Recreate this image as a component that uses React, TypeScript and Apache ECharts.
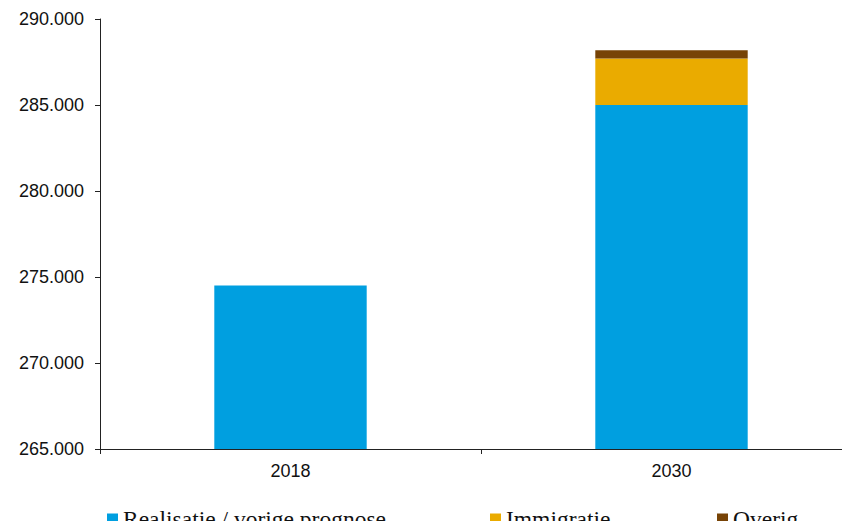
import React, { useEffect, useRef } from "react";
import * as echarts from "echarts";

const categories = ["2018", "2030"];
const realisatie = [274500, 285000];
const immigratie = [0, 2700];
const overig = [0, 480];
const seriesNames = ["Realisatie / vorige prognose", "Immigratie", "Overig"];
const colors = ["#009FE0", "#EAAB00", "#774306"];

function fmt(v: number): string {
  const s = Math.round(v).toString();
  return s.replace(/\B(?=(\d{3})+(?!\d))/g, ".");
}

export default function App() {
  const ref = useRef<HTMLDivElement>(null);
  useEffect(() => {
    if (!ref.current) return;
    const chart = echarts.init(ref.current, null, { renderer: "svg" });
    const legendLefts = [107, 490, 717];
    chart.setOption({
      animation: false,
      grid: { left: 100, right: 0, top: 19, bottom: 80 },
      legend: seriesNames.map((n, i) => ({
        data: [n],
        left: legendLefts[i],
        top: 507,
        padding: 0,
        itemWidth: 11,
        itemHeight: 11,
        icon: "rect",
        textStyle: { fontFamily: "Liberation Serif", fontSize: 23.5, lineHeight: 24, color: "#111" },
      })),
      xAxis: {
        type: "category",
        data: categories,
        axisLine: { lineStyle: { color: "#222", width: 1 } },
        axisTick: { show: true, length: 5, lineStyle: { color: "#222" } },
        axisLabel: { fontFamily: "Liberation Sans", fontSize: 18, color: "#111", margin: 13 },
      },
      yAxis: {
        type: "value",
        min: 265000,
        max: 290000,
        interval: 5000,
        splitLine: { show: false },
        axisLine: { show: true, lineStyle: { color: "#222", width: 1 } },
        axisTick: { show: true, length: 5, lineStyle: { color: "#222" } },
        axisLabel: {
          fontFamily: "Liberation Sans",
          fontSize: 18,
          color: "#111",
          margin: 16,
          formatter: (v: number) => fmt(v),
        },
      },
      series: [
        { name: seriesNames[0], type: "bar", stack: "a", data: realisatie, barWidth: "40%", itemStyle: { color: colors[0] } },
        { name: seriesNames[1], type: "bar", stack: "a", data: immigratie, barWidth: "40%", itemStyle: { color: colors[1] } },
        { name: seriesNames[2], type: "bar", stack: "a", data: overig, barWidth: "40%", itemStyle: { color: colors[2] } },
      ],
    });
    return () => chart.dispose();
  }, []);
  return (
    <div style={{ width: 850, height: 529, margin: -8, overflow: "hidden", position: "relative" }}>
      <div ref={ref} style={{ width: 862, height: 529 }} />
    </div>
  );
}
